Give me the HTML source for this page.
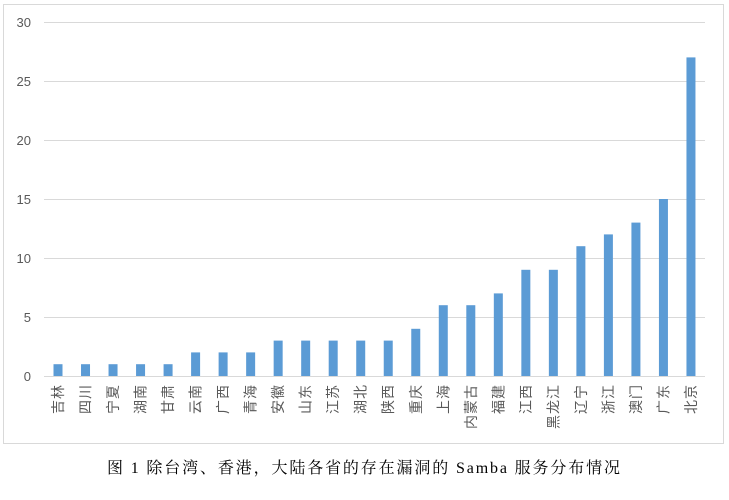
<!DOCTYPE html>
<html><head><meta charset="utf-8"><style>body{margin:0;background:#fff}svg{display:block}</style></head>
<body>
<svg width="729" height="500" xmlns="http://www.w3.org/2000/svg">
<rect x="3.5" y="4.5" width="720" height="439" fill="#fff" stroke="#d9d9d9"/>
<g stroke="#d9d9d9" stroke-width="1">
<line x1="44" x2="705" y1="22.5" y2="22.5"/>
<line x1="44" x2="705" y1="81.5" y2="81.5"/>
<line x1="44" x2="705" y1="140.5" y2="140.5"/>
<line x1="44" x2="705" y1="199.5" y2="199.5"/>
<line x1="44" x2="705" y1="258.5" y2="258.5"/>
<line x1="44" x2="705" y1="317.5" y2="317.5"/>
<line x1="44" x2="705" y1="376.5" y2="376.5"/>
</g>
<g font-family="Liberation Sans, sans-serif" font-size="13" fill="#595959" text-anchor="end">
<text x="31" y="27">30</text><text x="31" y="86">25</text><text x="31" y="145">20</text>
<text x="31" y="204">15</text><text x="31" y="263">10</text><text x="31" y="322">5</text><text x="31" y="381">0</text>
</g>
<g id="bars" fill="#5b9bd5"></g>
<g id="labels" font-family="Liberation Sans, Noto Sans CJK SC, sans-serif" font-size="14" fill="#595959" text-anchor="end" letter-spacing="1"></g>
<text x="107" y="473" textLength="513" lengthAdjust="spacing" font-family="Liberation Serif, Noto Serif CJK SC, serif" font-size="16" fill="#000">图 1  除台湾、香港，大陆各省的存在漏洞的 Samba 服务分布情况</text>
<script>
var n=["吉林","四川","宁夏","湖南","甘肃","云南","广西","青海","安徽","山东","江苏","湖北","陕西","重庆","上海","内蒙古","福建","江西","黑龙江","辽宁","浙江","澳门","广东","北京"];
var v=[1,1,1,1,1,2,2,2,3,3,3,3,3,4,6,6,7,9,9,11,12,13,15,27];
var b=document.getElementById("bars"),l=document.getElementById("labels"),ns="http://www.w3.org/2000/svg";
for(var i=0;i<24;i++){var cx=58+i*27.52,h=v[i]*11.8;
var r=document.createElementNS(ns,"rect");r.setAttribute("x",cx-4.5);r.setAttribute("y",376-h);r.setAttribute("width",9);r.setAttribute("height",h);b.appendChild(r);
var t=document.createElementNS(ns,"text");t.setAttribute("transform","translate("+(cx+5)+",384) rotate(-90)");t.textContent=n[i];l.appendChild(t);}
</script>
</svg>
</body></html>
